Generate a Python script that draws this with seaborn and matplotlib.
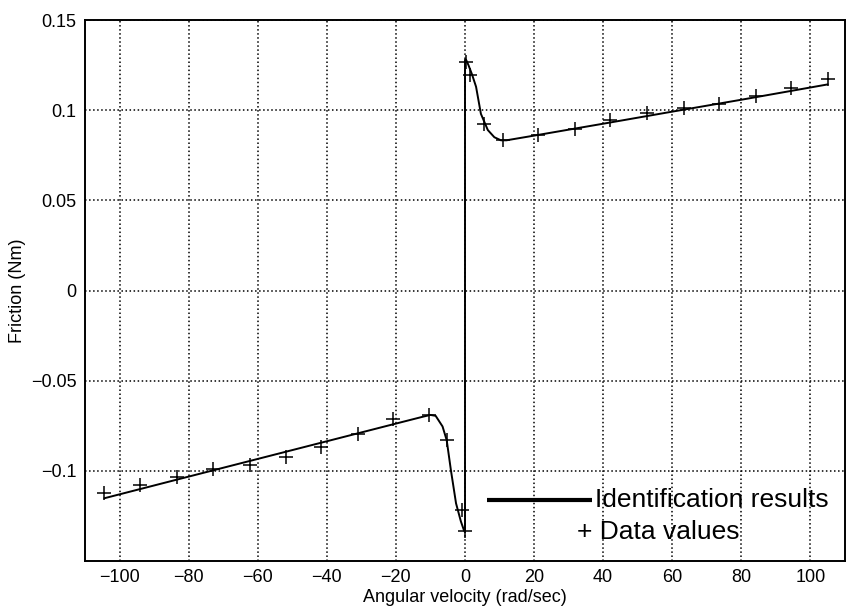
import matplotlib
matplotlib.use("Agg")
import matplotlib.pyplot as plt
import seaborn as sns
import pandas as pd

# identified friction curve
fit_v = [-104.4, -80, -60, -40, -20, -12, -10, -8.5, -6.5, -5.3, -4.1, -2.6, -1.2, -0.3, 0,
         0, 0.3, 1, 2, 3.2, 4.6, 6.6, 8.5, 10.4, 12, 20, 40, 60, 80, 105]
fit_f = [-0.1152, -0.1032, -0.0934, -0.0836, -0.0738, -0.0699, -0.069, -0.0695, -0.0754, -0.083,
         -0.0994, -0.118, -0.128, -0.133, -0.134,
         0.128, 0.128, 0.125, 0.12, 0.113, 0.098, 0.089, 0.085, 0.0833, 0.0833, 0.0859,
         0.0925, 0.0992, 0.1058, 0.1143]

# measured data values
data_v = [-104.4, -94.0, -83.5, -73.0, -62.3, -51.8, -41.7, -31.0, -20.7, -10.3, -5.3, -0.9, 0,
          0.3, 1.4, 5.4, 10.9, 21.2, 31.9, 42.1, 52.8, 63.4, 73.5, 84.1, 94.5, 105.1]
data_f = [-0.1124, -0.1078, -0.1035, -0.0991, -0.0967, -0.0924, -0.087, -0.0794, -0.0713,
          -0.0689, -0.0828, -0.1217, -0.1332,
          0.127, 0.1194, 0.0922, 0.0837, 0.0861, 0.0893, 0.0944, 0.0987, 0.101, 0.1032,
          0.108, 0.1124, 0.1172]

xticks = [-100, -80, -60, -40, -20, 0, 20, 40, 60, 80, 100]
xtick_labels = ["\u2212100", "\u221280", "\u221260", "\u221240", "\u221220", "0",
                "20", "40", "60", "80", "100"]
yticks = [-0.1, -0.05, 0, 0.05, 0.1, 0.15]
ytick_labels = ["\u22120.1", "\u22120.05", "0", "0.05", "0.1", "0.15"]

sns.set_style("white")
plt.rcParams['font.family'] = ['Liberation Sans', 'DejaVu Sans']
plt.rcParams['text.color'] = 'black'
plt.rcParams['axes.labelcolor'] = 'black'

fit = pd.DataFrame({"v": fit_v, "f": fit_f})
meas = pd.DataFrame({"v": data_v, "f": data_f})

fig = plt.figure(figsize=(8.46, 6.07), dpi=100)
ax = fig.add_axes([0.1005, 0.0758, 0.8983, 0.8912])

sns.lineplot(data=fit, x="v", y="f", sort=False, estimator=None, color="black",
             linewidth=1.4, ax=ax)
ax.plot(meas["v"], meas["f"], linestyle="none", marker="+", markersize=10,
        markeredgewidth=1.1, color="black")

ax.set_xlim(-110, 110)
ax.set_ylim(-0.15, 0.15)
ax.set_xticks(xticks)
ax.set_xticklabels(xtick_labels)
ax.set_yticks(yticks)
ax.set_yticklabels(ytick_labels)
ax.tick_params(direction="in", length=5, width=1, labelsize=13, colors="black", pad=6)
ax.grid(True, linestyle=":", color="black", linewidth=1.1)
for s in ax.spines.values():
    s.set_color("black")
    s.set_linewidth(1.4)

ax.set_xlabel("Angular velocity (rad/sec)", fontsize=13, labelpad=2)
ax.set_ylabel("Friction (Nm)", fontsize=13, labelpad=4)

# legend drawn MATLAB style (no box)
ax.plot([0.529, 0.667], [0.113, 0.113], transform=ax.transAxes, color="black",
        linewidth=3, solid_capstyle="butt")
ax.text(0.671, 0.113, "Identification results", transform=ax.transAxes, fontsize=19,
        va="center", ha="left")
ax.text(0.647, 0.054, "+ Data values", transform=ax.transAxes, fontsize=19,
        va="center", ha="left")

fig.savefig("out.png", dpi=100)
